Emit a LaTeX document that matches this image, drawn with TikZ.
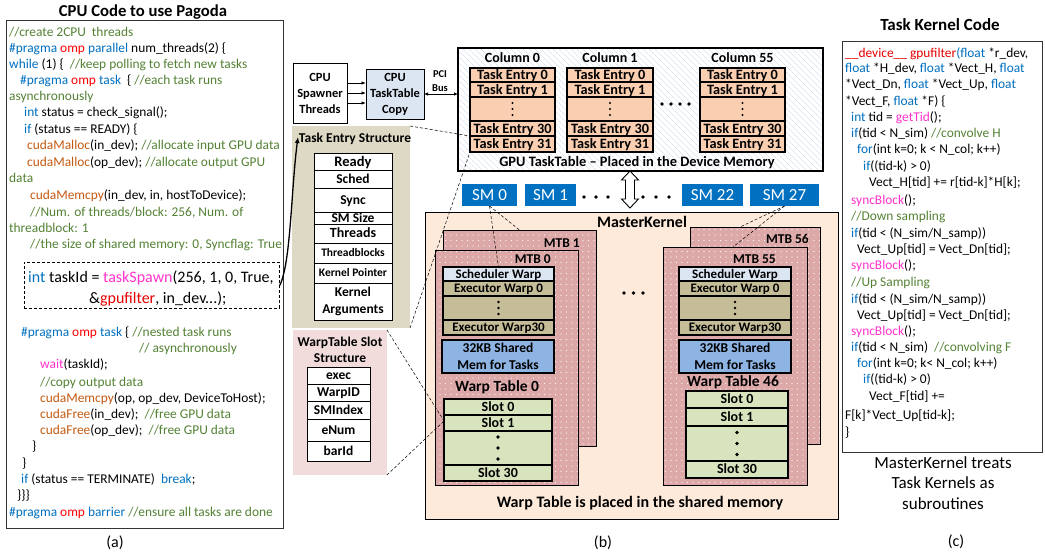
\documentclass[tikz,border=0pt]{standalone}
\usepackage{fontspec}
\setmainfont{Carlito}
\usetikzlibrary{arrows.meta,patterns.meta,calc}

\definecolor{cmtgreen}{RGB}{84,130,53}
\definecolor{kwblue}{RGB}{0,112,192}
\definecolor{ompred}{RGB}{255,0,0}
\definecolor{fnbrown}{RGB}{197,90,17}
\definecolor{fnmag}{RGB}{255,51,204}
\definecolor{devred}{RGB}{230,0,0}
\definecolor{tanbg}{RGB}{221,217,196}
\definecolor{pinkbg}{RGB}{242,220,219}
\definecolor{paleblue}{RGB}{220,230,242}
\definecolor{peach}{RGB}{250,206,176}
\definecolor{mkbg}{RGB}{253,234,218}
\definecolor{mtbpink}{RGB}{220,168,168}
\definecolor{smblue}{RGB}{0,112,192}
\definecolor{warptan}{RGB}{196,189,151}
\definecolor{shmblue}{RGB}{142,180,227}
\definecolor{slotgreen}{RGB}{215,228,189}
\definecolor{hatchblue}{RGB}{198,212,236}

\newcommand\fsz[2]{\fontsize{#1}{#2}\selectfont}
\newcommand\cCmt[1]{\textcolor{cmtgreen}{#1}}
\newcommand\cKw[1]{\textcolor{kwblue}{#1}}
\newcommand\cOmp[1]{\textcolor{ompred}{#1}}
\newcommand\cCuda[1]{\textcolor{fnbrown}{#1}}
\newcommand\cMag[1]{\textcolor{fnmag}{#1}}
\newcommand\cDev[1]{\textcolor{devred}{#1}}

% rectangle from (x1,y1) to (x2,y2): name, x1, y1, x2, y2, style, text
\newcommand\boxcell[7]{\node[#6, anchor=north west, minimum width={#4-#2}, minimum height={#5-#3}] (#1) at (#2,#3) {#7};}
% one source line, baseline at (x,y)
\newcommand\srcline[4]{\node[code] (#1) at (#2,#3) {#4};}
% three stacked dots in a cell
\newcommand\stackdots[3]{\foreach \d in {-#2,0,#2} \fill ([yshift=\d pt]#1.center) circle (#3);}

\begin{document}
\begin{tikzpicture}[x=1pt,y=-1pt,
  code/.style={anchor=base west, inner sep=0pt, font=\fsz{13.4}{16}},
  bigcode/.style={code, font=\fsz{16}{18}},
  cellbox/.style={draw, line width=1pt, inner sep=0pt, outer sep=0pt, align=center},
  entry/.style={cellbox, fill=peach, line width=1.3pt, font=\bfseries\fsz{14.3}{15}, text height=9pt, text depth=0pt},
  tesrow/.style={cellbox, fill=white, font=\bfseries\fsz{#1}{#1}, text height={0.64*#1}, text depth=0pt},
  warp/.style={cellbox, line width=1.3pt, font=\bfseries\fsz{13}{14}, text height=8.3pt, text depth=0pt},
  slot/.style={cellbox, fill=slotgreen, line width=1.3pt, font=\bfseries\fsz{14}{15}, text height=8.8pt, text depth=0pt},
  smbox/.style={inner sep=0pt, outer sep=0pt, fill=smblue, text=white, font=\fsz{17}{18}, text height=11pt, text depth=0pt},
  mtb/.style={draw, line width=1pt, inner sep=0pt, outer sep=0pt, preaction={fill=mtbpink},
    pattern={Dots[distance=5.5pt, radius=0.6pt]}, pattern color=white!92!mtbpink},
  lbl/.style={inner sep=0pt, align=center, font=\bfseries\fsz{14}{16}},
  caption/.style={inner sep=0pt, font=\fsz{16}{18}},
  dashlink/.style={densely dashed, line width=0.5pt},
  tip/.style={-{Latex[length=4.5pt,width=3.5pt]}, line width=0.9pt},
]
\useasboundingbox (0,0) rectangle (1045,554);
\fill[white] (0,0) rectangle (1045,554);

% ---------------- (a) host code ----------------
\node[inner sep=0pt, font=\bfseries\fsz{16.7}{18}] (ttla) at (143,12) {CPU Code to use Pagoda};
\boxcell{panela}{6}{20}{283}{528}{draw=black!80, line width=0.8pt, fill=none}{}
\srcline{a1}{9}{36}{\cCmt{//create 2CPU\ \ threads}}
\srcline{a2}{9}{52}{\cKw{\#pragma} \cOmp{omp} \cKw{parallel} num\_threads(2) \{}
\srcline{a3}{9}{68}{\cKw{while} (1) \{\ \ \cCmt{//keep polling to fetch new tasks}}
\srcline{a4}{20}{84}{\cKw{\#pragma} \cOmp{omp} \cKw{task}\ \ \{ \cCmt{//each task runs}}
\srcline{a5}{9}{100}{\cCmt{asynchronously}}
\srcline{a6}{24}{116}{\cKw{int} status = check\_signal();}
\srcline{a7}{24}{133}{\cKw{if} (status == READY) \{}
\srcline{a8}{27}{149}{\cCuda{cudaMalloc}(in\_dev); \cCmt{//allocate input GPU data}}
\srcline{a9}{27}{166}{\cCuda{cudaMalloc}(op\_dev); \cCmt{//allocate output GPU}}
\srcline{a10}{9}{182}{\cCmt{data}}
\srcline{a11}{30}{199}{\cCuda{cudaMemcpy}(in\_dev, in, hostToDevice);}
\srcline{a12}{30}{216}{\cCmt{//Num. of threads/block: 256, Num. of}}
\srcline{a13}{9}{232}{\cCmt{threadblock: 1}}
\srcline{a14}{30}{248}{\cCmt{//the size of shared memory: 0, Syncflag: True}}
\boxcell{spawn}{24}{262}{279}{308}{draw, densely dashed, line width=0.8pt, fill=white}{}
\node[bigcode] (a15) at (28,282) {\cKw{int} taskId = \cMag{taskSpawn}(256, 1, 0, True,};
\node[bigcode] (a16) at (89,303) {\&\cDev{gpufilter}, in\_dev...);};
\srcline{a17}{21}{336}{\cKw{\#pragma} \cOmp{omp} \cKw{task} \{ \cCmt{//nested task runs}}
\srcline{a18}{139}{352}{\cCmt{// asynchronously}}
\srcline{a19}{40}{368}{\cMag{wait}(taskId);}
\srcline{a20}{40}{386}{\cCmt{//copy output data}}
\srcline{a21}{40}{402}{\cCuda{cudaMemcpy}(op, op\_dev, DeviceToHost);}
\srcline{a22}{40}{418}{\cCuda{cudaFree}(in\_dev);\ \ \cCmt{//free GPU data}}
\srcline{a23}{40}{434}{\cCuda{cudaFree}(op\_dev);\ \ \cCmt{//free GPU data}}
\srcline{a24}{32}{450}{\}}
\srcline{a25}{22}{467}{\}}
\srcline{a26}{21}{483}{\cKw{if} (status == TERMINATE)\ \ \cKw{break};}
\srcline{a27}{17}{499}{\}\}\}}
\srcline{a28}{9}{516}{\cKw{\#pragma} \cOmp{omp} \cKw{barrier} \cCmt{//ensure all tasks are done}}
\node[caption] (capa) at (115,543) {(a)};

% ---------------- (b) runtime structure ----------------
% host side
\boxcell{spawner}{293}{63}{347}{123}{cellbox, fill=white, font=\bfseries\fsz{12.5}{16}}{CPU\\Spawner\\Threads}
\boxcell{cpucopy}{366}{69}{424}{119}{cellbox, fill=paleblue, font=\bfseries\fsz{12.5}{16}}{CPU\\TaskTable\\Copy}
\foreach \s in {10,0,-10}
  \draw[tip] ([yshift=\s pt]spawner.east) -- ([yshift=\s pt]spawner.east -| cpucopy.west);
\node[inner sep=0pt, align=center, font=\bfseries\fsz{10.5}{14}] (pci) at (440,81) {PCI\\Bus};

% device task table
\boxcell{gputable}{458}{48}{823}{171}{draw, line width=1.2pt, inner sep=0pt, outer sep=0pt, preaction={fill=white},
  pattern={Lines[angle=-45, distance=4pt, line width=0.45pt]}, pattern color=hatchblue}{}
\draw[{Latex[length=4pt,width=3.5pt]}-{Latex[length=4pt,width=3.5pt]}, line width=0.8pt]
  (cpucopy.east) -- (cpucopy.east -| gputable.west);
\foreach \xa/\xb/\cn/\nm in {470/555/0/ca, 567/653/1/cb, 700/785/55/cc} {
  \node[lbl] (\nm h) at ({(\xa+\xb)/2},58) {Column \cn};
  \boxcell{\nm0}{\xa}{68}{\xb}{82}{entry}{Task Entry 0}
  \boxcell{\nm1}{\xa}{82}{\xb}{97}{entry}{Task Entry 1}
  \boxcell{\nm d}{\xa}{97}{\xb}{121}{entry}{}
  \boxcell{\nm30}{\xa}{121}{\xb}{136}{entry}{Task Entry 30}
  \boxcell{\nm31}{\xa}{136}{\xb}{152}{entry}{Task Entry 31}
  \stackdots{\nm d}{6}{1.2pt}
}
\foreach \x in {662,671,680,689} \fill (\x,104) circle (1.8pt);
\node[lbl, font=\bfseries\fsz{14.4}{16}] (gpucap) at (637,163) {GPU TaskTable – Placed in the Device Memory};

% task entry structure
\boxcell{tes}{292}{126}{410}{328}{fill=tanbg, inner sep=0pt, outer sep=0pt}{}
\node[lbl, font=\bfseries\fsz{13.5}{15}] (testtl) at (355,139) {Task Entry Structure};
\boxcell{fReady}{314}{153}{392}{170}{tesrow=14.5}{Ready}
\boxcell{fSched}{314}{170}{392}{188}{tesrow=13.5}{Sched}
\boxcell{fSync}{314}{188}{392}{212}{tesrow=13.5}{Sync}
\boxcell{fSMS}{314}{212}{392}{224}{tesrow=13.5}{SM Size}
\boxcell{fThr}{314}{224}{392}{243}{tesrow=14}{Threads}
\boxcell{fTB}{314}{243}{392}{263}{tesrow=11.5}{Threadblocks}
\boxcell{fKP}{314}{263}{392}{283}{tesrow=11.5}{Kernel Pointer}
\boxcell{fKA}{314}{283}{392}{320}{cellbox, fill=white, font=\bfseries\fsz{13.5}{17}}{Kernel\\Arguments}

% warp table slot structure
\boxcell{wss}{293}{330}{387}{475}{fill=pinkbg, inner sep=0pt, outer sep=0pt}{}
\node[lbl, font=\bfseries\fsz{13.5}{15.5}] (wsstl) at (340,350) {WarpTable Slot\\Structure};
\boxcell{sExec}{307}{367}{370}{384}{tesrow=13.5}{exec}
\boxcell{sWid}{307}{384}{370}{401}{tesrow=13.5}{WarpID}
\boxcell{sSMI}{307}{401}{370}{419}{tesrow=13.5}{SMIndex}
\boxcell{sENum}{307}{419}{370}{441}{tesrow=13.5}{eNum}
\boxcell{sBar}{307}{441}{370}{461}{tesrow=13.5}{barId}

% SMs
\boxcell{sm0}{462}{184}{517}{206}{smbox}{SM 0}
\boxcell{sm1}{525}{184}{576}{206}{smbox}{SM 1}
\boxcell{sm22}{682}{184}{743}{206}{smbox}{SM 22}
\boxcell{sm27}{750}{184}{819}{206}{smbox}{SM 27}
\foreach \x in {584,596,608,643,656,669} \fill (\x,197) circle (1.9pt);

% master kernel
\boxcell{mk}{425}{212}{838}{519}{draw, line width=1pt, fill=mkbg, inner sep=0pt, outer sep=0pt}{}
\node[lbl, font=\bfseries\fsz{16}{18}] (mktl) at (642,222) {MasterKernel};

% host/device link
\coordinate (ha) at (gputable.south -| 630,0);
\draw[fill=white, line width=0.9pt] (ha) -- ++(8.5,9) -- ++(-4,0) -- ++(0,19) -- ++(4,0) -- ++(-8.5,9)
  -- ++(-8.5,-9) -- ++(4,0) -- ++(0,-19) -- ++(-4,0) -- cycle;

% MTB 1 / MTB 0
\boxcell{mtb1}{443}{230}{596}{446}{mtb}{}
\node[lbl, font=\bfseries\fsz{13.5}{15}, anchor=east] (mtb1l) at (580,243) {MTB 1};
\boxcell{mtb0}{435}{250}{578}{485}{mtb}{}
\node[lbl, font=\bfseries\fsz{13.5}{15}, anchor=east] (mtb0l) at (551,259) {MTB 0};
\boxcell{schA}{443}{267}{554}{281}{warp, fill=paleblue}{Scheduler Warp}
\boxcell{exA0}{443}{281}{554}{296}{warp, fill=warptan}{Executor Warp 0}
\boxcell{exAd}{443}{296}{554}{320}{warp, fill=warptan}{}
\boxcell{exA30}{443}{320}{554}{335}{warp, fill=warptan}{Executor Warp30}
\stackdots{exAd}{6}{1.3pt}
\boxcell{shmA}{442}{340}{554}{373}{cellbox, line width=1.3pt, fill=shmblue, font=\bfseries\fsz{13.5}{17.5}}{32KB Shared\\Mem for Tasks}
\node[lbl, font=\bfseries\fsz{15.5}{17}] (wtA) at (497,387) {Warp Table 0};
\boxcell{slA0}{444}{399}{552}{415}{slot}{Slot 0}
\boxcell{slA1}{444}{415}{552}{431}{slot}{Slot 1}
\boxcell{slAd}{444}{431}{552}{465}{slot}{}
\boxcell{slA30}{444}{465}{552}{481}{slot}{Slot 30}
\stackdots{slAd}{11}{1.8pt}

% MTB 56 / MTB 55
\boxcell{mtb56}{690}{227}{820}{444}{mtb}{}
\node[lbl, font=\bfseries\fsz{13.5}{15}, anchor=east] (mtb56l) at (809,239) {MTB 56};
\boxcell{mtb55}{663}{247}{807}{485}{mtb}{}
\node[lbl, font=\bfseries\fsz{13.5}{15}, anchor=east] (mtb55l) at (776,259) {MTB 55};
\boxcell{schB}{679}{267}{791}{281}{warp, fill=paleblue}{Scheduler Warp}
\boxcell{exB0}{679}{281}{791}{296}{warp, fill=warptan}{Executor Warp 0}
\boxcell{exBd}{679}{296}{791}{320}{warp, fill=warptan}{}
\boxcell{exB30}{679}{320}{791}{335}{warp, fill=warptan}{Executor Warp30}
\stackdots{exBd}{6}{1.3pt}
\boxcell{shmB}{679}{340}{791}{373}{cellbox, line width=1.3pt, fill=shmblue, font=\bfseries\fsz{13.5}{17.5}}{32KB Shared\\Mem for Tasks}
\node[lbl, font=\bfseries\fsz{15.5}{17}] (wtB) at (733,382) {Warp Table 46};
\boxcell{slB0}{686}{391}{788}{408}{slot}{Slot 0}
\boxcell{slB1}{686}{408}{788}{426}{slot}{Slot 1}
\boxcell{slBd}{686}{426}{788}{461}{slot}{}
\boxcell{slB30}{686}{461}{788}{478}{slot}{Slot 30}
\stackdots{slBd}{11}{1.8pt}

\foreach \x in {624,633.5,643} \fill (\x,293) circle (1.9pt);
\node[lbl, font=\bfseries\fsz{16}{18}] (mkcap) at (640,503) {Warp Table is placed in the shared memory};
\node[caption] (capb) at (603,543) {(b)};

% dashed correspondences
\draw[dashlink] (sm0.south) -- (mtb1.north);
\draw[dashlink] (sm0.south) -- (schA.north);
\draw[dashlink] (sm27.south) -- ([xshift=-15pt]mtb56.north);
\draw[dashlink] (sm27.south) -- ([xshift=-2pt]mtb55.north);
\draw[dashlink] (tes.north east) -- (ca31.north west);
\draw[dashlink] (tes.south east) -- (ca31.south west);
\draw[dashlink] (wss.north east) -- ([yshift=2pt]slA1.west);
\draw[dashlink] (wss.south east) -- ([yshift=2pt]slA1.west);

% spawned task goes into a task entry
\draw[-{Latex[length=6pt,width=5pt]}, line width=1.3pt]
  (spawn.east) .. controls (291,262) and (291,190) .. ([xshift=6pt,yshift=-11pt]tes.north west);

% ---------------- (c) task kernel ----------------
\node[inner sep=0pt, font=\bfseries\fsz{17}{19}] (ttlc) at (940,25) {Task Kernel Code};
\boxcell{panelc}{842}{41}{1042}{452}{draw=black!80, line width=0.8pt, fill=none}{}
\srcline{c1}{845}{57}{\cDev{\_\_device\_\_ gpufilter}\cKw{(float} *r\_dev,}
\srcline{c2}{845}{72}{\cKw{float} *H\_dev, \cKw{float} *Vect\_H, \cKw{float}}
\srcline{c3}{845}{88}{*Vect\_Dn, \cKw{float} *Vect\_Up, \cKw{float}}
\srcline{c4}{845}{105}{*Vect\_F, \cKw{float} *F) \{}
\srcline{c5}{851}{121}{\cKw{int} tid = \cMag{getTid}();}
\srcline{c6}{851}{137}{\cKw{if}(tid < N\_sim) \cCmt{//convolve H}}
\srcline{c7}{857}{153}{\cKw{for}(int k=0; k < N\_col; k++)}
\srcline{c8}{863}{170}{\cKw{if}((tid-k) > 0)}
\srcline{c9}{869}{186}{Vect\_H[tid] += r[tid-k]*H[k];}
\srcline{c10}{851}{204}{\cMag{syncBlock}();}
\srcline{c11}{851}{220}{\cCmt{//Down sampling}}
\srcline{c12}{851}{237}{\cKw{if}(tid < (N\_sim/N\_samp))}
\srcline{c13}{857}{253}{Vect\_Up[tid] = Vect\_Dn[tid];}
\srcline{c14}{851}{269}{\cMag{syncBlock}();}
\srcline{c15}{851}{286}{\cCmt{//Up Sampling}}
\srcline{c16}{851}{303}{\cKw{if}(tid < (N\_sim/N\_samp))}
\srcline{c17}{857}{319}{Vect\_Up[tid] = Vect\_Dn[tid];}
\srcline{c18}{851}{335}{\cMag{syncBlock}();}
\srcline{c19}{851}{351}{\cKw{if}(tid < N\_sim)\ \ \cCmt{//convolving F}}
\srcline{c20}{857}{367}{\cKw{for}(int k=0; k< N\_col; k++)}
\srcline{c21}{863}{383}{\cKw{if}((tid-k) > 0)}
\srcline{c22}{869}{400}{Vect\_F[tid] +=}
\srcline{c23}{845}{419}{F[k]*Vect\_Up[tid-k];}
\srcline{c24}{845}{436}{\}}
\node[inner sep=0pt, align=center, font=\fsz{17}{20.5}] (notec) at (943,483) {MasterKernel treats\\Task Kernels as\\subroutines};
\node[caption] (capc) at (956,542) {(c)};
\end{tikzpicture}
\end{document}
